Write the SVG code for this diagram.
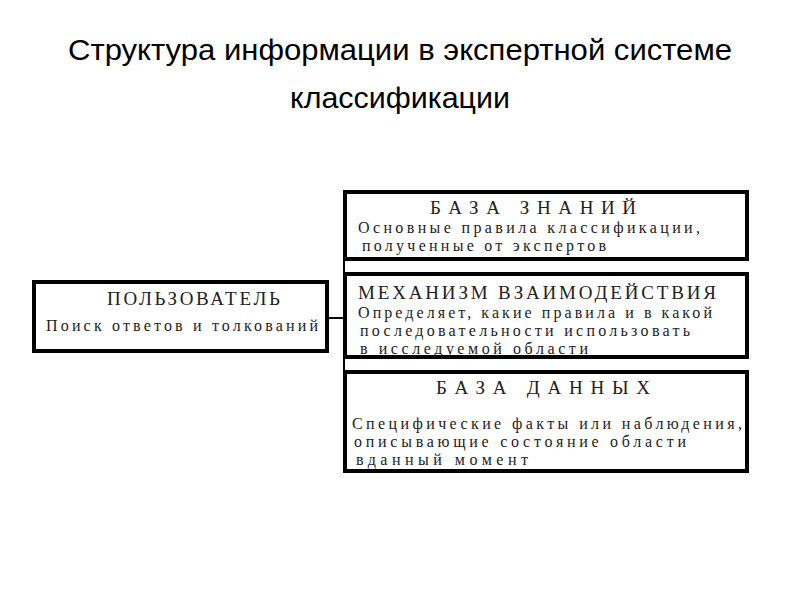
<svg xmlns="http://www.w3.org/2000/svg" width="800" height="600" viewBox="0 0 800 600">
<style>
.box{fill:#fff;stroke:#000;stroke-width:4}
.t{font-family:"Liberation Serif","DejaVu Serif",serif;font-size:16px;fill:#222}
.k{font-size:19px}
.h{font-family:"Liberation Sans",Arial,sans-serif;font-size:29px;fill:#000;text-anchor:middle}
.c{fill:none;stroke:#000;stroke-width:2}
</style>
<rect width="800" height="600" fill="#fff"/>
<text class="h" x="400" y="60" textLength="664" lengthAdjust="spacingAndGlyphs">Структура информации в экспертной системе</text>
<text class="h" x="400" y="108" textLength="220" lengthAdjust="spacingAndGlyphs">классификации</text>
<g id="connectors">
<line class="c" x1="344" y1="190" x2="344" y2="472"/>
<line class="c" x1="328" y1="318" x2="344" y2="318"/>
</g>
<g id="user">
<rect class="box" x="34" y="282" width="293" height="69"/>
<text class="t k" x="107" y="305" textLength="173" lengthAdjust="spacing">ПОЛЬЗОВАТЕЛЬ</text>
<text class="t" x="46" y="331" textLength="272" lengthAdjust="spacing">Поиск ответов и толкований</text>
</g>
<g id="knowledge">
<rect class="box" x="345" y="192" width="402" height="67"/>
<text class="t k" x="430" y="214" textLength="206" lengthAdjust="spacing">БАЗА ЗНАНИЙ</text>
<text class="t" x="358" y="233" textLength="342" lengthAdjust="spacing">Основные правила классификации,</text>
<text class="t" x="362" y="251" textLength="244" lengthAdjust="spacing">полученные от экспертов</text>
</g>
<g id="mechanism">
<rect class="box" x="345" y="274" width="402" height="83"/>
<text class="t k" x="358" y="299" textLength="358" lengthAdjust="spacing">МЕХАНИЗМ ВЗАИМОДЕЙСТВИЯ</text>
<text class="t" x="358" y="318" textLength="354" lengthAdjust="spacing">Определяет, какие правила и в какой</text>
<text class="t" x="360" y="336" textLength="330" lengthAdjust="spacing">последовательности использовать</text>
<text class="t" x="360" y="354" textLength="228" lengthAdjust="spacing">в исследуемой области</text>
</g>
<g id="database">
<rect class="box" x="345" y="372" width="402" height="99"/>
<text class="t k" x="436" y="394" textLength="214" lengthAdjust="spacing">БАЗА ДАННЫХ</text>
<text class="t" x="352" y="429" textLength="390" lengthAdjust="spacing">Специфические факты или наблюдения,</text>
<text class="t" x="354" y="447" textLength="332" lengthAdjust="spacing">описывающие состояние области</text>
<text class="t" x="356" y="465" textLength="172" lengthAdjust="spacing">вданный момент</text>
</g>
</svg>
